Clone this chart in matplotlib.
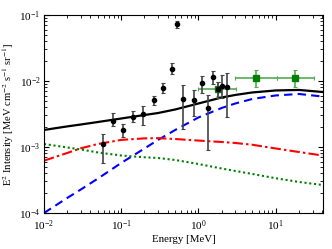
import numpy as np
import matplotlib
matplotlib.use("Agg")
import matplotlib.pyplot as plt

plt.rcParams["font.family"] = "serif"
plt.rcParams["font.serif"] = ["Liberation Serif", "DejaVu Serif"]
plt.rcParams["mathtext.fontset"] = "stix"

# model curves
energy = [0.01, 0.02, 0.03, 0.05, 0.1, 0.2, 0.3, 0.5, 1, 2, 3, 5, 10, 20, 40]
total = [1.81e-3, 2.05e-3, 2.19e-3, 2.39e-3, 2.70e-3, 3.05e-3, 3.27e-3, 3.70e-3,
         4.56e-3, 5.62e-3, 6.14e-3, 6.70e-3, 7.18e-3, 7.31e-3, 6.81e-3]
comp_blue = [1.0e-4, 1.69e-4, 2.27e-4, 3.33e-4, 5.73e-4, 9.49e-4, 1.28e-3, 1.81e-3,
             2.80e-3, 3.90e-3, 4.56e-3, 5.34e-3, 6.03e-3, 6.35e-3, 5.82e-3]
comp_red = [6.20e-4, 8.11e-4, 9.55e-4, 1.11e-3, 1.28e-3, 1.35e-3, 1.36e-3, 1.32e-3,
            1.25e-3, 1.19e-3, 1.15e-3, 1.08e-3, 9.49e-4, 8.39e-4, 7.43e-4]
comp_green = [1.11e-3, 9.83e-4, 9.17e-4, 8.26e-4, 7.43e-4, 6.98e-4, 6.81e-4, 6.35e-4,
              5.52e-4, 4.72e-4, 4.33e-4, 3.90e-4, 3.36e-4, 2.95e-4, 2.66e-4]

# black data points
pt_e = [0.058, 0.078, 0.105, 0.142, 0.191, 0.262, 0.351, 0.459, 0.522, 0.632,
        0.869, 1.11, 1.31, 1.54, 1.77, 2.03, 2.36]
pt_i = [1.10e-3, 2.48e-3, 1.81e-3, 2.88e-3, 3.16e-3, 5.10e-3, 7.91e-3, 1.535e-2,
        7.31e-2, 5.28e-3, 5.15e-3, 9.33e-3, 3.86e-3, 1.14e-2, 7.56e-3, 8.49e-3, 8.20e-3]
pt_lo = [5.66e-4, 2.08e-3, 1.42e-3, 2.39e-3, 2.16e-3, 4.33e-3, 6.58e-3, 1.276e-2,
         6.36e-2, 1.87e-3, 2.95e-3, 6.58e-3, 9.0e-4, 9.01e-3, 5.53e-3, 5.53e-3, 2.85e-3]
pt_hi = [1.56e-3, 3.27e-3, 2.23e-3, 3.51e-3, 4.18e-3, 5.93e-3, 9.33e-3, 1.875e-2,
         8.11e-2, 8.70e-3, 7.31e-3, 1.19e-2, 6.14e-3, 1.42e-2, 9.75e-3, 1.23e-2, 1.32e-2]

# green squares
sq_e = [1.77, 5.55, 17.8]
sq_elo = [1.0, 3.0, 10.3]
sq_ehi = [3.03, 10.3, 30.9]
sq_i = [7.56e-3, 1.12e-2, 1.10e-2]
sq_lo = [6.0e-3, 8.03e-3, 8.0e-3]
sq_hi = [9.5e-3, 1.45e-2, 1.45e-2]

fig = plt.figure(figsize=(3.32, 2.49), dpi=100)
ax = fig.add_axes([0.1325, 0.1446, 0.8405, 0.7954])

ax.plot(energy, total, color="black", lw=1.6)
ax.plot(energy, comp_blue, color="blue", lw=1.5, ls=(0, (4, 2.5)))
ax.plot(energy, comp_red, color="red", lw=1.5, ls=(0, (5, 1.5, 1.2, 1.5)))
ax.plot(energy, comp_green, color="green", lw=1.5, ls=(0, (1, 1.3)))

pt_i = np.array(pt_i)
yerr = [pt_i - np.array(pt_lo), np.array(pt_hi) - pt_i]
ax.errorbar(pt_e, pt_i, yerr=yerr, fmt="o", color="black", ms=3,
            ecolor="#444444", elinewidth=1.2, capsize=1.5, capthick=0.8, zorder=4)

sq_i = np.array(sq_i)
sq_e = np.array(sq_e)
ax.errorbar(sq_e, sq_i,
            xerr=[sq_e - np.array(sq_elo), np.array(sq_ehi) - sq_e],
            yerr=[sq_i - np.array(sq_lo), np.array(sq_hi) - sq_i],
            fmt="s", color="green", ms=4, ecolor="#55aa55", elinewidth=1.2,
            capsize=1.5, capthick=0.8, zorder=3)

ax.set_xscale("log")
ax.set_yscale("log")
ax.set_xlim(0.01, 41)
ax.set_ylim(1e-4, 1e-1)
ax.tick_params(which="both", direction="in", top=True, right=True, labelsize=8)
ax.tick_params(axis="x", which="major", length=3.5, pad=4)
ax.tick_params(axis="y", which="major", length=3.5, pad=2.5)
ax.tick_params(which="minor", length=2)
ax.set_xlabel("Energy [MeV]", fontsize=7.8, labelpad=1)
ax.set_ylabel("E$^2$ Intensity [MeV cm$^{-2}$ s$^{-1}$ sr$^{-1}$]", fontsize=7.6, labelpad=2)

fig.savefig("out.png", dpi=100)
